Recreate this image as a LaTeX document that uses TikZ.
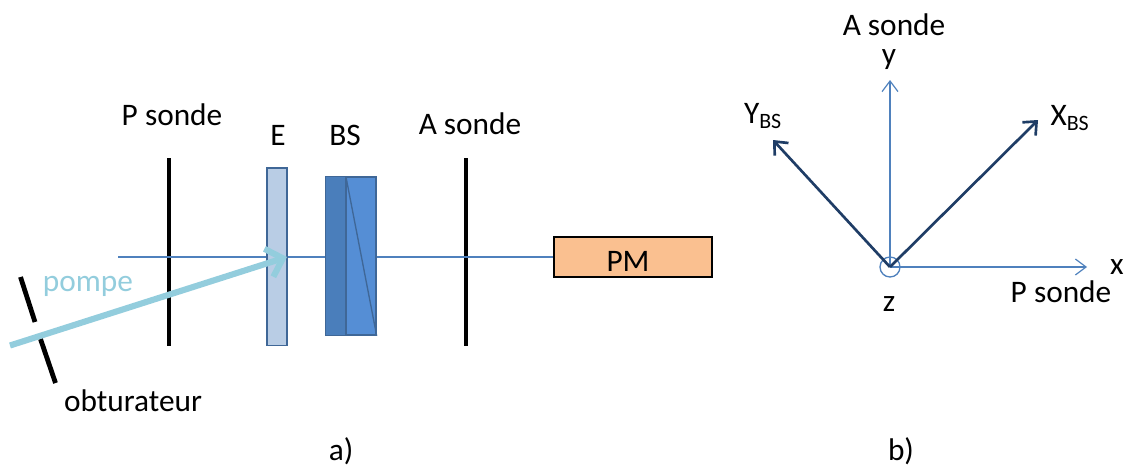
\documentclass[tikz,border=0pt]{standalone}
\usepackage{fontspec}
\setmainfont{Carlito}
\usetikzlibrary{arrows.meta}
\definecolor{faisceau}{HTML}{4F81BD}
\definecolor{bordbleu}{HTML}{3F6797}
\definecolor{lameE}{HTML}{B9CDE5}
\definecolor{bsfonce}{HTML}{4A7EBB}
\definecolor{bsclair}{HTML}{558ED5}
\definecolor{pompebleu}{HTML}{93CDDD}
\definecolor{axefonce}{HTML}{1F3D66}
\definecolor{pmorange}{HTML}{FAC090}
\tikzset{
	texte/.style={font=\fontsize{23.5}{26}\selectfont, inner sep=0pt},
	polar/.style={line width=3pt, black},
	optique/.style={draw=bordbleu, line width=1pt, inner sep=0pt},
	axefin/.style={faisceau, line width=0.9pt, -{Straight Barb[length=8pt,width=12pt,line width=0.9pt]}},
	axebs/.style={axefonce, line width=2pt, -{Straight Barb[length=8pt,width=14pt,line width=2pt]}}
}
\begin{document}
\begin{tikzpicture}[x=0.75pt, y=-0.75pt]
	\useasboundingbox (0,0) rectangle (1126,467);
	
	% Partie a) : faisceau sonde
	\node[draw=black, line width=1.2pt, fill=pmorange, minimum width=118.5pt, minimum height=30pt, inner sep=0pt] (pm) at (633,257) {};
	\coordinate (sondeDebut) at (118,257);
	\node[texte, anchor=base] (pmTexte) at (628,271) {PM};
	
	% Polariseurs
	\coordinate (pHaut) at (168.5,158);
	\coordinate (pBas) at (168.5,346);
	\coordinate (aHaut) at (465.5,158);
	\coordinate (aBas) at (465.5,346);
	\draw[polar] (pHaut) -- (pBas);
	\draw[polar] (aHaut) -- (aBas);
	\draw[faisceau, line width=1pt] (sondeDebut) -- (pm.west);
	
	% Echantillon E
	\node[optique, fill=lameE, minimum width=15pt, minimum height=133pt] (lame) at (277,256.5) {};
	
	% Cube BS
	\node[optique, fill=bsclair, minimum width=37.5pt, minimum height=118.5pt] (bs) at (351,256) {};
	\coordinate (bsSep) at (346,177);
	\coordinate (bsSepBas) at (346,335);
	\fill[bsfonce] (bs.north west) rectangle (bsSepBas);
	\draw[bordbleu, line width=1pt] (bs.north west) rectangle (bs.south east);
	\draw[bordbleu, line width=1pt] (bsSep) -- (bsSepBas);
	\draw[bordbleu, line width=1pt] (bsSep) -- (bs.south east);
	
	% Pompe et obturateur
	\coordinate (pompeDebut) at (10,345.5);
	\coordinate (pompeFin) at (287,257);
	\coordinate (obtA) at (20.5,277);
	\coordinate (obtB) at (35,322);
	\coordinate (obtC) at (40.5,339);
	\coordinate (obtD) at (55.5,383);
	\draw[polar, line width=3.6pt] (obtA) -- (obtB);
	\draw[polar, line width=3.6pt] (obtC) -- (obtD);
	\draw[pompebleu, line width=4.6pt, -{Straight Barb[length=11pt,width=22pt,line width=4.6pt]}] (pompeDebut) -- (pompeFin);
	
	% Textes de a)
	\node[texte] (pSonde) at (172,115) {P sonde};
	\node[texte] (eTexte) at (278,135) {E};
	\node[texte] (bsTexte) at (345,135) {BS};
	\node[texte] (aSonde) at (470,124) {A sonde};
	\node[texte, text=pompebleu] (pompe) at (88,286) {pompe};
	\node[texte] (obturateur) at (133,401) {obturateur};
	\node[texte] (legendeA) at (341,451) {a)};
	
	% Partie b) : axes
	\node[draw=faisceau, line width=1pt, circle, minimum size=15pt, inner sep=0pt] (origine) at (890,267) {};
	\coordinate (finX) at (1087,267);
	\coordinate (finY) at (890,80);
	\coordinate (finXbs) at (1038,120);
	\coordinate (finYbs) at (773,140);
	\draw[axefin] (origine.center) -- (finX);
	\draw[axefin] (origine.center) -- (finY);
	\draw[axebs] (origine.center) -- (finXbs);
	\draw[axebs] (origine.center) -- (finYbs);
	
	% Textes de b)
	\node[texte] (aSondeB) at (894,25) {A sonde};
	\node[texte] (yTexte) at (889,60) {y};
	\node[texte] (yBS) at (763,116) {Y\textsubscript{BS}};
	\node[texte] (xBS) at (1070,118) {X\textsubscript{BS}};
	\node[texte] (xTexte) at (1117,267) {x};
	\node[texte] (pSondeB) at (1061,292) {P sonde};
	\node[texte] (zTexte) at (889,304) {z};
	\node[texte] (legendeB) at (901,451) {b)};
\end{tikzpicture}
\end{document}
